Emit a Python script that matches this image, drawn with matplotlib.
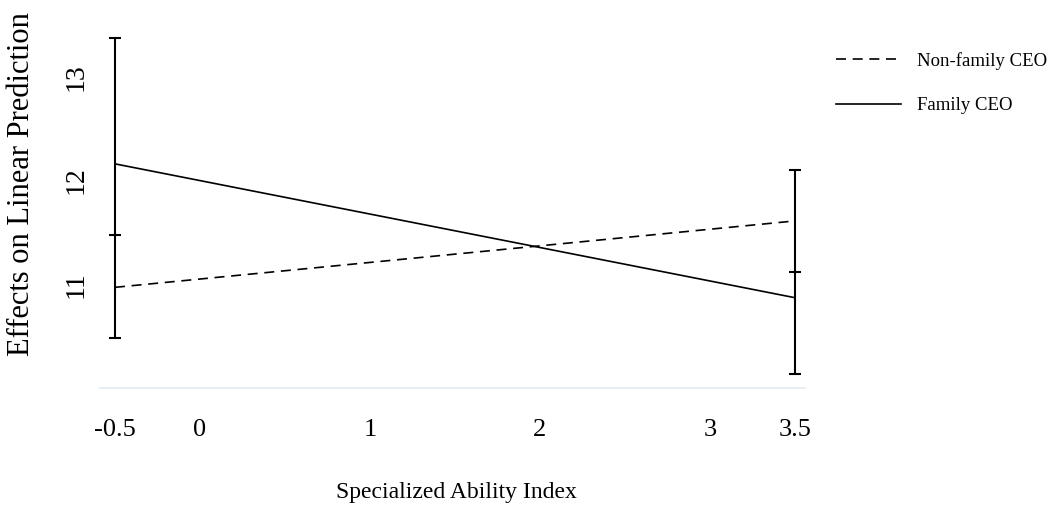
import numpy as np
import matplotlib
matplotlib.use("Agg")
import matplotlib.pyplot as plt

plt.rcParams['font.family'] = ['Liberation Serif', 'DejaVu Serif']

# values
x_ends = [-0.5, 3.5]
family = [12.16, 10.87]
nonfamily = [10.97, 11.61]
err_low = [10.48, 10.13]
err_high = [13.37, 12.10]
err_mid = [11.47, 11.12]
xticks = [-0.5, 0, 1, 2, 3, 3.5]
xticklabels = ["-0.5", "0", "1", "2", "3", "3.5"]
yticks = [11, 12, 13]

fig = plt.figure(figsize=(10.62, 5.13), dpi=100)
ax = fig.add_axes([0.0942, 0.2437, 0.758 - 0.0942, 0.9415 - 0.2437])

ax.plot(x_ends, nonfamily, color="black", lw=1.2, ls=(0, (6, 4)), label="Non-family CEO")
ax.plot(x_ends, family, color="black", lw=1.2, label="Family CEO")

# error bars at both ends
ax.vlines(x_ends, err_low, err_high, color="black", lw=1.5)
ax.plot(x_ends, err_low, ls="none", marker="_", ms=8, mew=1.5, color="black")
ax.plot(x_ends, err_high, ls="none", marker="_", ms=8, mew=1.5, color="black")
ax.plot(x_ends, err_mid, ls="none", marker="_", ms=8, mew=1.5, color="black")

ax.set_xlim(-0.588, 3.559)
ax.set_ylim(10, 13.45)
ax.set_xticks(xticks)
ax.set_xticklabels(xticklabels, fontsize=19)
ax.set_yticks(yticks)
ax.set_yticklabels([str(v) for v in yticks], fontsize=20, rotation=90, va="center")
ax.tick_params(axis="both", length=0)
ax.tick_params(axis="x", pad=22)
ax.tick_params(axis="y", pad=8)

for s in ["top", "right", "left"]:
    ax.spines[s].set_visible(False)
ax.spines["bottom"].set_color("#e3ebef")
ax.spines["bottom"].set_linewidth(1.2)

# axis titles placed by their centres
ax.text(0.506, -0.291, "Specialized Ability Index", fontsize=17,
        ha="center", va="center", transform=ax.transAxes)
ax.text(-0.111, 0.57, "Effects on Linear Prediction", fontsize=22, rotation=90,
        ha="center", va="center", transform=ax.transAxes)

leg = ax.legend(loc="upper left", bbox_to_anchor=(0.778, 0.917), bbox_transform=fig.transFigure,
                frameon=False, fontsize=13.5, handlelength=3.5, handletextpad=0.85,
                labelspacing=1.45, borderpad=0)

fig.savefig("out.png", dpi=100)
